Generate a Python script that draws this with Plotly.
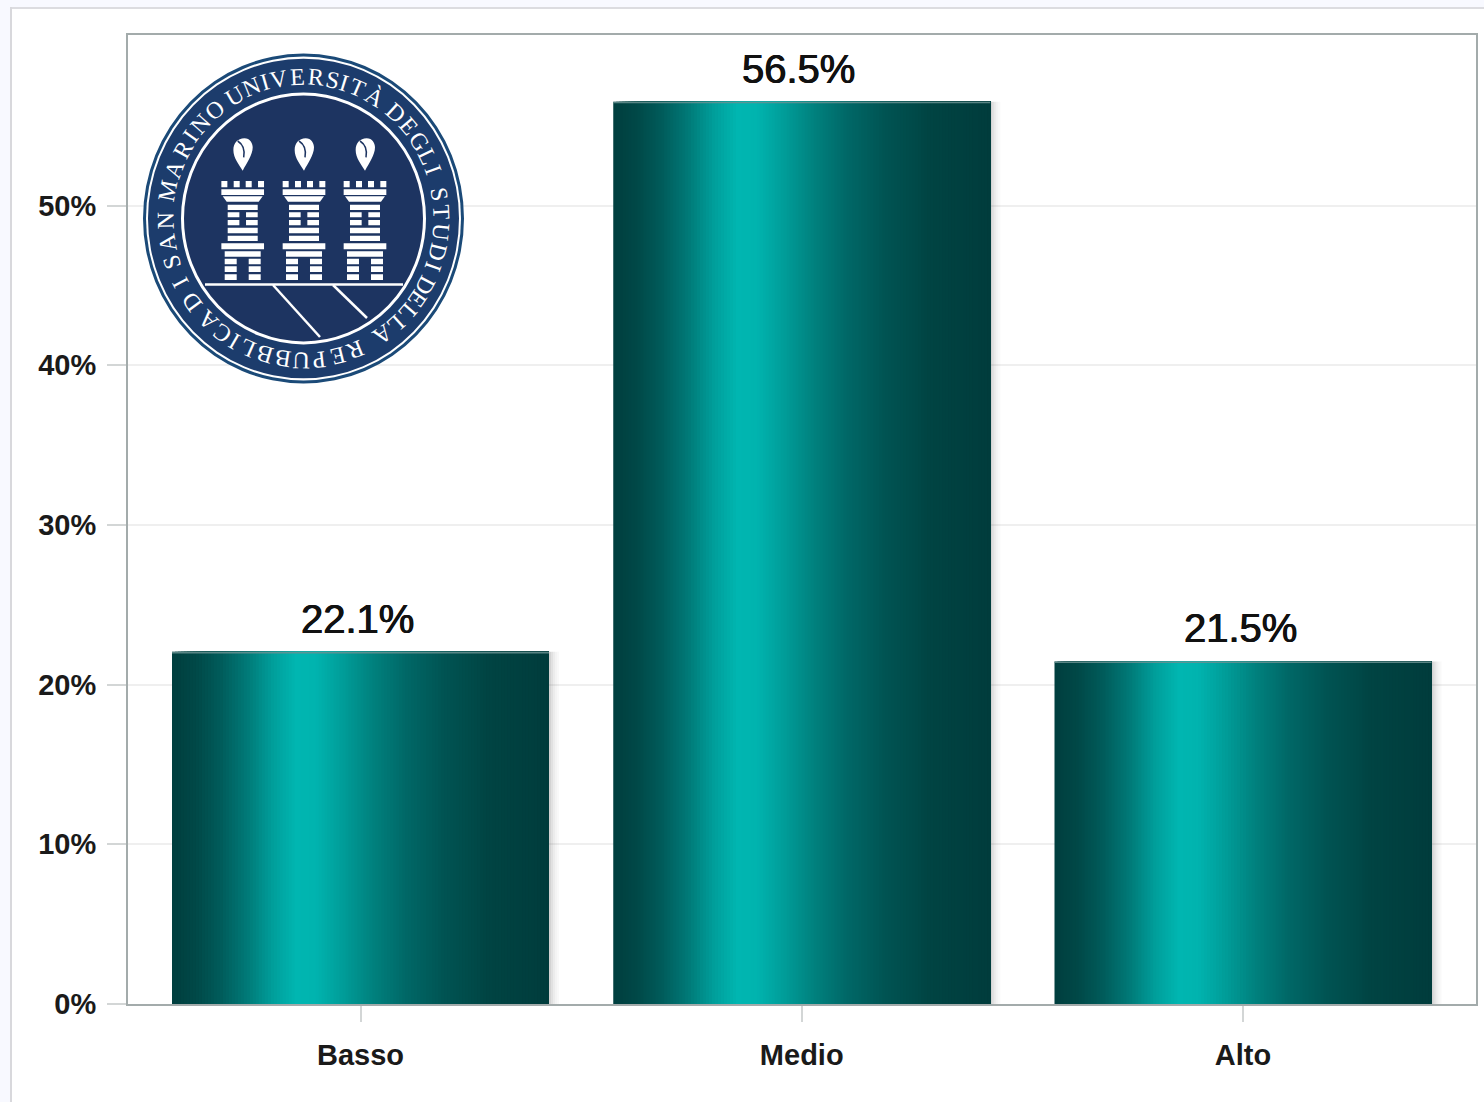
import math
import plotly.graph_objects as go

# ---- data ----
categories = ["Basso", "Medio", "Alto"]
values = [22.05, 56.5, 21.45]
value_labels = ["22.1%", "56.5%", "21.5%"]
y_ticks = [0, 10, 20, 30, 40, 50]
y_tick_labels = ["0%", "10%", "20%", "30%", "40%", "50%"]

# seal wording: word, first-letter angle, last-letter angle (clockwise from the top)
seal_words = [
    ("UNIVERSITÀ", -30, 31), ("DEGLI", 42, 70), ("STUDI", 80, 110),
    ("DELLA", 118, 145), ("REPUBBLICA", 158, 224), ("DI", 234, 243),
    ("SAN", 252, 269), ("MARINO", 281, 320),
]

# ---- layout in pixels ----
W, H = 1484, 1102
L, R, T, B = 128, 1476, 35, 1004
def xp(px): return (px - L) / (R - L)
def yp(py): return (B - py) / (B - T)

STEP = 441.25
X0 = (L - 360.5) / STEP
X1 = (R - 360.5) / STEP
BAR_W = 377 / STEP
CAP = 1.6 / 15.97

gradient = [(0.00, (0, 62, 62)), (0.06, (0, 72, 71)), (0.13, (0, 92, 91)), (0.20, (0, 122, 120)),
            (0.27, (0, 160, 156)), (0.33, (0, 182, 177)), (0.38, (0, 180, 175)), (0.45, (0, 158, 154)),
            (0.53, (0, 130, 127)), (0.62, (0, 104, 103)), (0.72, (0, 84, 83)), (0.84, (0, 68, 67)), (1.00, (0, 60, 60))]

def grad(f):
    for (a, ca), (b, cb) in zip(gradient, gradient[1:]):
        if f <= b:
            t = (f - a) / (b - a)
            return "rgb(%d,%d,%d)" % tuple(round(p + (q - p) * t) for p, q in zip(ca, cb))
    return "rgb(0,60,60)"

fig = go.Figure()

# soft shadow on the right side of the bars
for k, alpha in enumerate([0.24, 0.16, 0.10, 0.06, 0.03]):
    fig.add_bar(x=categories, y=values, width=2 / STEP, offset=BAR_W / 2 + k * 2 / STEP,
                marker=dict(color="rgba(70,70,70,%s)" % alpha, line_width=0), hoverinfo="skip", showlegend=False)

# each bar is painted as overlapping layers, each running from its slice to the bar's right end
N = 126
sw = BAR_W / N
for i in range(N):
    fig.add_bar(x=categories, y=values, width=BAR_W - i * sw, offset=-BAR_W / 2 + i * sw,
                marker=dict(color=grad((i + 0.5) / N), line_width=0), hoverinfo="skip", showlegend=False)

# thin lighter edge along the top of each bar
fig.add_bar(x=categories, y=[CAP] * 3, base=[v - CAP for v in values], width=BAR_W, offset=-BAR_W / 2,
            marker=dict(color="rgba(105,145,145,0.85)", line_width=0), hoverinfo="skip", showlegend=False)

shapes = []
# page frame behind the chart
shapes.append(dict(type="rect", xref="paper", yref="paper", x0=xp(0), x1=xp(W), y0=yp(0), y1=yp(7),
                   fillcolor="#f8f9ff", line_width=0, layer="below"))
shapes.append(dict(type="rect", xref="paper", yref="paper", x0=xp(0), x1=xp(10), y0=yp(0), y1=yp(H),
                   fillcolor="#f8f9ff", line_width=0, layer="below"))
shapes.append(dict(type="rect", xref="paper", yref="paper", x0=xp(10), x1=xp(W), y0=yp(7), y1=yp(9),
                   fillcolor="#dcdce0", line_width=0, layer="below"))
shapes.append(dict(type="rect", xref="paper", yref="paper", x0=xp(10), x1=xp(12), y0=yp(7), y1=yp(H),
                   fillcolor="#d8d8dc", line_width=0, layer="below"))

# ---- seal ----
CX, CY, RX, RY = 303.5, 218.5, 160.5, 165.0
NAVY, RIM, BAND = "#1d3461", "#1b4a78", "#1c3c6c"

def ell(r, fill, line=None, lw=0):
    sx, sy = RX / 160.5, RY / 160.5
    return dict(type="circle", xref="paper", yref="paper",
                x0=xp(CX - r * sx), x1=xp(CX + r * sx), y0=yp(CY + r * sy), y1=yp(CY - r * sy),
                fillcolor=fill, line=dict(color=line or fill, width=lw))

shapes += [ell(160.5, RIM), ell(157.5, "#ffffff"), ell(155.5, BAND), ell(121, NAVY, "#ffffff", 3)]

def rect(x0, x1, y0, y1):
    return "M%.5f,%.5f L%.5f,%.5f L%.5f,%.5f L%.5f,%.5f Z" % (xp(x0), yp(y0), xp(x1), yp(y0), xp(x1), yp(y1), xp(x0), yp(y1))

def ox(c, v): return c + v / 3.0
def oy(v): return 130 + v / 3.0

for c in [242.7, 304.0, 365.0]:
    d = []
    for a, b in [(-64, -46), (-27, -9), (9, 27), (46, 64)]:
        d.append(rect(ox(c, a), ox(c, b), oy(153), oy(172)))
    d.append(rect(ox(c, -64), ox(c, 64), oy(178), oy(195)))
    d.append("M%.5f,%.5f L%.5f,%.5f L%.5f,%.5f L%.5f,%.5f Z" % (
        xp(ox(c, -60)), yp(oy(199)), xp(ox(c, 60)), yp(oy(199)), xp(ox(c, 48)), yp(oy(215)), xp(ox(c, -48)), yp(oy(215))))
    for y0, y1 in [(224, 240), (293, 310), (317, 333)]:
        d.append(rect(ox(c, -45), ox(c, 45), oy(y0), oy(y1)))
    for y0, y1 in [(247, 262), (270, 286)]:
        d.append(rect(ox(c, -45), ox(c, -10), oy(y0), oy(y1)))
        d.append(rect(ox(c, 10), ox(c, 45), oy(y0), oy(y1)))
    d.append(rect(ox(c, -64), ox(c, 64), oy(340), oy(358)))
    d.append(rect(ox(c, -54), ox(c, 54), oy(364), oy(380)))
    for y0, y1 in [(386, 403), (409, 426), (433, 450)]:
        d.append(rect(ox(c, -54), ox(c, -18), oy(y0), oy(y1)))
        d.append(rect(ox(c, 18), ox(c, 54), oy(y0), oy(y1)))
    shapes.append(dict(type="path", xref="paper", yref="paper", path=" ".join(d), fillcolor="#ffffff", line_width=0))
    # flame
    def P(a, b): return "%.5f,%.5f" % (xp(ox(c, a)), yp(oy(b)))
    flame = "M%s C%s %s %s C%s %s %s C%s %s %s C%s %s %s Z" % (
        P(0, 122), P(-10, 105), P(-28, 85), P(-28, 60), P(-28, 40), P(-15, 25), P(5, 25),
        P(22, 25), P(30, 40), P(30, 52), P(30, 75), P(12, 100), P(0, 122))
    shapes.append(dict(type="path", xref="paper", yref="paper", path=flame, fillcolor="#ffffff", line_width=0))
    slit = "M%s C%s %s %s" % (P(-15, 33), P(-4, 40), P(8, 55), P(3, 82))
    shapes.append(dict(type="path", xref="paper", yref="paper", path=slit, line=dict(color=NAVY, width=1.5)))

for x0, y0, x1, y1 in [(205, 284.5, 403, 284.5), (273, 285, 320, 337), (333, 285, 367, 318)]:
    shapes.append(dict(type="line", xref="paper", yref="paper", x0=xp(x0), x1=xp(x1), y0=yp(y0), y1=yp(y1),
                       line=dict(color="#ffffff", width=2.5)))

annotations = []
weights = {"I": 0.55, "M": 1.25, "A": 1.05, "À": 1.05, "S": 0.8}
TEXT_R = 138.0
for word, a0, a1 in seal_words:
    w = [weights.get(ch, 1.0) for ch in word]
    total = sum(w) - (w[0] + w[-1]) / 2
    pos = 0.0
    for i, ch in enumerate(word):
        if i:
            pos += (w[i - 1] + w[i]) / 2
        ang = a0 + (a1 - a0) * pos / total if total else a0
        rad = math.radians(ang)
        px = CX + TEXT_R * RX / 160.5 * math.sin(rad)
        py = CY - TEXT_R * RY / 160.5 * math.cos(rad)
        ta = (ang + 180) % 360 - 180
        annotations.append(dict(x=xp(px), y=yp(py), xref="paper", yref="paper", text=ch, showarrow=False,
                                textangle=ta, xanchor="center", yanchor="middle",
                                font=dict(family="Liberation Serif", size=24, color="#ffffff")))

# value labels above the bars
for cat, v, lab in zip(categories, values, value_labels):
    annotations.append(dict(x=cat, y=v, xref="x", yref="y", text=lab, showarrow=False, xshift=-3, yshift=9,
                            xanchor="center", yanchor="bottom",
                            font=dict(family="Liberation Sans", size=40, color="#111111",
                                      shadow="0.5px 0 0.3px #111111, -0.5px 0 0.3px #111111")))

fig.update_layout(
    width=W, height=H, barmode="overlay", showlegend=False,
    margin=dict(l=L, r=W - R, t=T, b=H - B, pad=0, autoexpand=False),
    paper_bgcolor="#ffffff", plot_bgcolor="#ffffff",
    shapes=shapes, annotations=annotations,
    xaxis=dict(type="category", categoryorder="array", categoryarray=categories, range=[X0, X1],
               showgrid=False, ticks="outside", ticklen=16, tickwidth=2, tickcolor="#d3d6d6",
               showline=True, linecolor="#a3abab", linewidth=2, mirror=True, ticklabelstandoff=8,
               tickfont=dict(family="Liberation Sans", size=29, color="#1a1a1a", weight=700)),
    yaxis=dict(range=[0, (B - T) / 15.97], tickvals=y_ticks, ticktext=y_tick_labels,
               showgrid=True, gridcolor="#efefef", gridwidth=2, zeroline=False,
               ticks="outside", ticklen=19, tickwidth=2, tickcolor="#d3d6d6",
               showline=True, linecolor="#a3abab", linewidth=2, mirror=True, ticklabelstandoff=5,
               tickfont=dict(family="Liberation Sans", size=29, color="#1a1a1a", weight=700)),
)

fig.write_html("out.html", config={"displayModeBar": False},
               post_script="document.body.style.margin='0';document.body.style.overflow='hidden';")
